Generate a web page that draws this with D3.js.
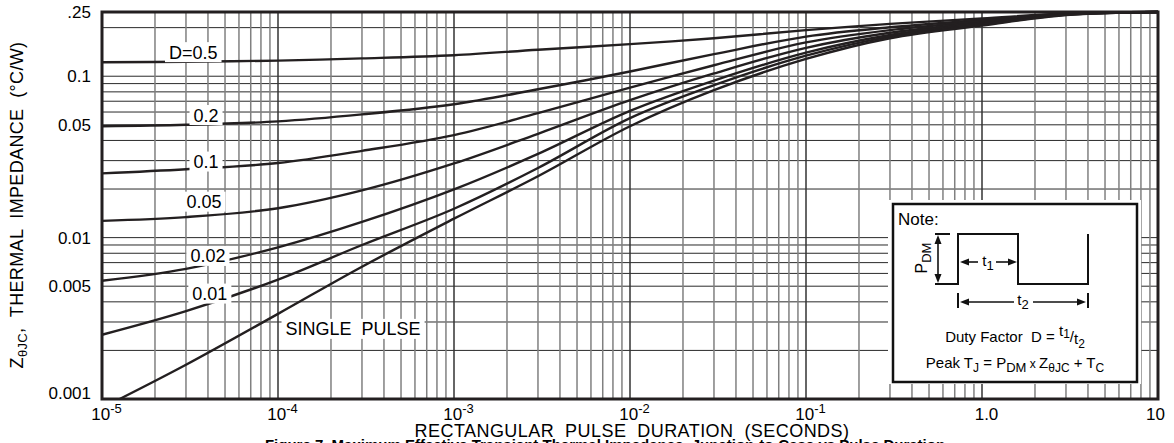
<!DOCTYPE html>
<html>
<head>
<meta charset="utf-8">
<script src="https://cdn.jsdelivr.net/npm/d3@7"></script>
<style>
body { margin: 0; background: #fff; }
svg { display: block; font-family: "Liberation Sans", Arial, sans-serif; }
</style>
</head>
<body>
<svg></svg>
<script>
let pulseT = [1e-5, 3e-5, 1e-4, 3e-4, 1e-3, 3e-3, 1e-2, 3e-2, 1e-1, 3e-1, 1, 3, 10]

// thermal impedance per duty factor (°C/W)
let d05 = [0.122, 0.123, 0.125, 0.129, 0.135, 0.146, 0.158, 0.172, 0.193, 0.211, 0.228, 0.245, 0.25]
let d02 = [0.049, 0.050, 0.0525, 0.058, 0.067, 0.083, 0.107, 0.137, 0.176, 0.201, 0.223, 0.244, 0.25]
let d01 = [0.025, 0.0265, 0.029, 0.0345, 0.0432, 0.059, 0.085, 0.117, 0.162, 0.193, 0.219, 0.243, 0.25]
let d005 = [0.0127, 0.0134, 0.0152, 0.0196, 0.0288, 0.044, 0.071, 0.104, 0.150, 0.186, 0.215, 0.242, 0.25]
let d002 = [0.0054, 0.0064, 0.0087, 0.0125, 0.0199, 0.033, 0.061, 0.094, 0.140, 0.180, 0.212, 0.241, 0.25]
let d001 = [0.0025, 0.0035, 0.0055, 0.009, 0.0151, 0.027, 0.055, 0.088, 0.134, 0.176, 0.209, 0.240, 0.25]

// single pulse starts a bit later, where it leaves the bottom edge
let singleT = [1.26e-5, 3e-5, 1e-4, 3e-4, 1e-3, 3e-3, 1e-2, 3e-2, 1e-1, 3e-1, 1, 3, 10]
let single = [0.001, 0.00163, 0.00337, 0.0066, 0.0131, 0.024, 0.049, 0.082, 0.128, 0.172, 0.206, 0.239, 0.25]

let curveNames = ["D=0.5", "0.2", "0.1", "0.05", "0.02", "0.01", "SINGLE  PULSE"]

let yTickVals = [0.25, 0.1, 0.05, 0.01, 0.005, 0.001]
let yTickLabels = [".25", "0.1", "0.05", "0.01", "0.005", "0.001"]
let xTickVals = [1e-5, 1e-4, 1e-3, 1e-2, 1e-1, 1, 10]
let xTickBase = ["10", "10", "10", "10", "10", "1.0", "10"]
let xTickExp = ["-5", "-4", "-3", "-2", "-1", "", ""]

let width = 1174
let height = 443
let plotL = 102, plotR = 1158, plotT = 12, plotB = 399

let svg = d3.select("svg").attr("width", width).attr("height", height)

let xScale = d3.scaleLog().domain([1e-5, 10]).range([plotL, plotR])
let yScale = d3.scaleLog().domain([0.001, 0.25]).range([plotB, plotT])

let drawGrid = () => {
    let g = svg.append("g")
    // horizontal lines 1..9 in each decade, plus 0.2
    let hVals = []
    for (let p = -3; p <= -2; p++) {
        for (let k = 1; k <= 9; k++) hVals.push(k * Math.pow(10, p))
    }
    hVals.push(0.1, 0.2)
    g.selectAll("line.h").data(hVals).enter().append("line")
        .attr("x1", plotL).attr("x2", plotR)
        .attr("y1", d => yScale(d)).attr("y2", d => yScale(d))
        .attr("stroke", "#2a2a2a").attr("stroke-width", 1)

    let vVals = []
    for (let p = -5; p <= 0; p++) {
        for (let k = 1; k <= 9; k++) vVals.push({v: k * Math.pow(10, p), major: k == 1})
    }
    g.selectAll("line.v").data(vVals).enter().append("line")
        .attr("y1", plotT).attr("y2", plotB)
        .attr("x1", d => xScale(d.v)).attr("x2", d => xScale(d.v))
        .attr("stroke", d => d.major ? "#333" : "#808080")
        .attr("stroke-width", 1.5)
}

let drawCurves = () => {
    let line = d3.line()
        .x(d => xScale(d[0]))
        .y(d => yScale(d[1]))
        .curve(d3.curveCatmullRom.alpha(0.5))
    let series = [d05, d02, d01, d005, d002, d001].map(arr => pulseT.map((t, i) => [t, arr[i]]))
    series.push(singleT.map((t, i) => [t, single[i]]))
    svg.append("g").selectAll("path").data(series).enter().append("path")
        .attr("d", line)
        .attr("fill", "none")
        .attr("stroke", "#231f20")
        .attr("stroke-width", 2.4)
}

let drawLabels = () => {
    // label spots in data units (t, z) so they sit on the chart
    let spots = [[3.3e-5, 0.141], [3.9e-5, 0.0575], [3.9e-5, 0.0296], [3.8e-5, 0.0167], [4.0e-5, 0.0077], [4.1e-5, 0.0045], [2.67e-4, 0.00272]]
    let g = svg.append("g")
    curveNames.forEach((name, i) => {
        let cx = xScale(spots[i][0]), cy = yScale(spots[i][1])
        let t = g.append("text")
            .attr("x", cx).attr("y", cy + 6.5)
            .attr("text-anchor", "middle")
            .attr("font-size", 18)
            .style("white-space", "pre")
            .text(name)
        let bb = t.node().getBBox()
        g.insert("rect", "text")
            .attr("x", bb.x - 4).attr("y", cy - 10)
            .attr("width", bb.width + 8).attr("height", 20)
            .attr("fill", "#fff")
    })
}

let drawAxes = () => {
    let yAxis = d3.axisLeft(yScale)
        .tickValues(yTickVals)
        .tickFormat((d, i) => yTickLabels[i])
        .tickSize(0)
        .tickPadding(11)
    let gy = svg.append("g").attr("transform", "translate(" + plotL + ",0)").call(yAxis)
    gy.select(".domain").remove()
    gy.attr("font-size", 17).attr("font-family", null)
    gy.selectAll("text").filter(d => d == 0.001).attr("dy", "-0.05em")

    let xAxis = d3.axisBottom(xScale)
        .tickValues(xTickVals)
        .tickFormat("")
        .tickSize(0)
        .tickPadding(9)
    let gx = svg.append("g").attr("transform", "translate(0," + plotB + ")").call(xAxis)
    gx.select(".domain").remove()
    gx.attr("font-size", 17).attr("font-family", null)
    gx.selectAll("text").each(function (d, i) {
        let t = d3.select(this).attr("x", i == 6 ? -3 : 4)
        t.append("tspan").text(xTickBase[i])
        if (xTickExp[i]) t.append("tspan").attr("font-size", 13).attr("dy", "-0.55em").text(xTickExp[i])
    })

    svg.append("text")
        .attr("x", 632).attr("y", 437)
        .attr("text-anchor", "middle").attr("font-size", 18)
        .attr("letter-spacing", 0.45)
        .style("white-space", "pre")
        .text("RECTANGULAR  PULSE  DURATION  (SECONDS)")

    let yt = svg.append("text")
        .attr("transform", "translate(23,205) rotate(-90)")
        .attr("text-anchor", "middle").attr("font-size", 18)
        .attr("letter-spacing", 0.35)
        .style("white-space", "pre")
    yt.append("tspan").text("Z")
    yt.append("tspan").attr("font-size", 13).attr("dy", 4).text("θJC")
    yt.append("tspan").attr("dy", -4).text(",  THERMAL  IMPEDANCE  (°C/W)")

    svg.append("text")
        .attr("x", 605).attr("y", 450)
        .attr("text-anchor", "middle")
        .attr("font-size", 15).attr("font-weight", "bold")
        .text("Figure 7. Maximum Effective Transient Thermal Impedance, Junction-to-Case vs Pulse Duration")
}

let arrowHead = (g, x, y, dir) => {
    // dir: "l","r","u","d"
    let pts = {
        l: [[x, y], [x + 9, y - 3.5], [x + 9, y + 3.5]],
        r: [[x, y], [x - 9, y - 3.5], [x - 9, y + 3.5]],
        u: [[x, y], [x - 3.5, y + 9], [x + 3.5, y + 9]],
        d: [[x, y], [x - 3.5, y - 9], [x + 3.5, y - 9]]
    }[dir]
    g.append("path").attr("d", "M" + pts.join("L") + "Z").attr("fill", "#111")
}

let drawNote = () => {
    svg.append("rect").attr("x", 888).attr("y", 200).attr("width", 253).attr("height", 184).attr("fill", "#fff")
    let g = svg.append("g").attr("transform", "translate(893,204)")
    g.append("rect").attr("width", 244).attr("height", 178)
        .attr("fill", "#fff").attr("stroke", "#111").attr("stroke-width", 2.5)
    g.append("text").attr("x", 5).attr("y", 21).attr("font-size", 17).text("Note:")

    let path = (d, w) => g.append("path").attr("d", d).attr("stroke", "#111").attr("stroke-width", w || 2).attr("fill", "none")
    // pulse train
    path("M42,80 H65 V30 H125 V80 H195 V30")
    path("M42,30 H57")
    // P_DM arrow
    path("M45,38 V72", 1.6)
    arrowHead(g, 45, 31, "u")
    arrowHead(g, 45, 79, "d")
    let pdm = g.append("text").attr("transform", "translate(34,54) rotate(-90)")
        .attr("text-anchor", "middle").attr("font-size", 16)
    pdm.append("tspan").text("P")
    pdm.append("tspan").attr("font-size", 13).attr("dy", 4).text("DM")
    // t1
    path("M75,58 H85", 1.6)
    path("M103,58 H116", 1.6)
    arrowHead(g, 67, 58, "l")
    arrowHead(g, 124, 58, "r")
    let t1 = g.append("text").attr("x", 95).attr("y", 62).attr("text-anchor", "middle").attr("font-size", 15)
    t1.append("tspan").text("t")
    t1.append("tspan").attr("font-size", 13).attr("dy", 4).text("1")
    // t2
    path("M65,89 V104")
    path("M195,89 V104")
    path("M75,98 H121", 1.6)
    path("M140,98 H186", 1.6)
    arrowHead(g, 67, 98, "l")
    arrowHead(g, 193, 98, "r")
    let t2 = g.append("text").attr("x", 130).attr("y", 101).attr("text-anchor", "middle").attr("font-size", 15)
    t2.append("tspan").text("t")
    t2.append("tspan").attr("font-size", 13).attr("dy", 4).text("2")

    let duty = g.append("text").attr("x", 122).attr("y", 138).attr("text-anchor", "middle").attr("font-size", 15)
        .style("white-space", "pre")
    duty.append("tspan").text("Duty Factor  D = ")
    duty.append("tspan").attr("dy", -6).text("t")
    duty.append("tspan").attr("font-size", 12).attr("dy", 2).text("1")
    duty.append("tspan").attr("dy", 4).text("/")
    duty.append("tspan").attr("dy", 2).text("t")
    duty.append("tspan").attr("font-size", 12).attr("dy", 4).text("2")

    let peak = g.append("text").attr("x", 122).attr("y", 164).attr("text-anchor", "middle").attr("font-size", 15)
    peak.append("tspan").text("Peak T")
    peak.append("tspan").attr("font-size", 12).attr("dy", 4).text("J")
    peak.append("tspan").attr("dy", -4).text(" = P")
    peak.append("tspan").attr("font-size", 13).attr("dy", 4).text("DM")
    peak.append("tspan").attr("font-size", 12).attr("dy", -4).text(" x ")
    peak.append("tspan").text("Z")
    peak.append("tspan").attr("font-size", 12).attr("dy", 4).text("θJC")
    peak.append("tspan").attr("dy", -4).text(" + T")
    peak.append("tspan").attr("font-size", 12).attr("dy", 4).text("C")
}

let drawFrame = () => {
    svg.append("rect")
        .attr("x", plotL).attr("y", plotT)
        .attr("width", plotR - plotL).attr("height", plotB - plotT)
        .attr("fill", "none").attr("stroke", "#231f20").attr("stroke-width", 3)
}

drawGrid()
drawCurves()
drawLabels()
drawNote()
drawFrame()
drawAxes()
</script>
</body>
</html>
